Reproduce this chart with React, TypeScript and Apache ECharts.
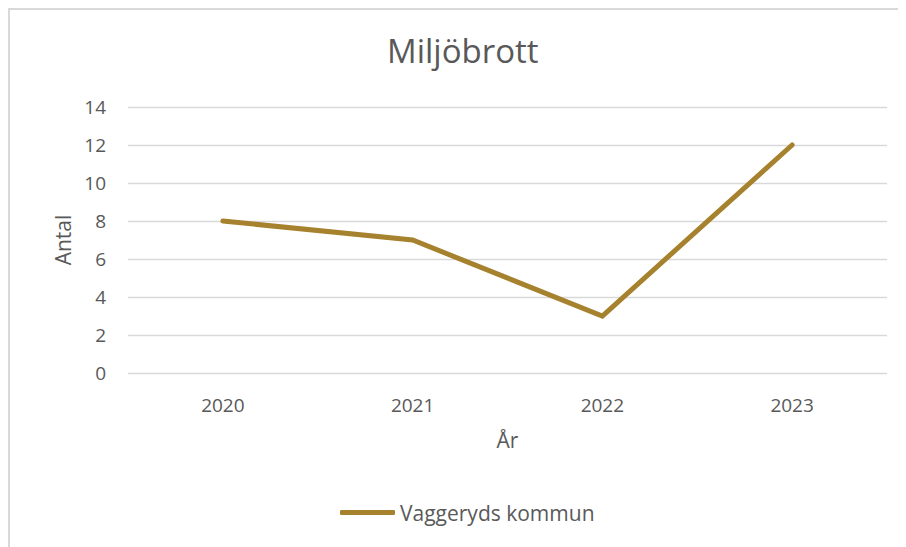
import React, { useEffect, useRef } from "react";
import * as echarts from "echarts";

const categories = ["2020", "2021", "2022", "2023"];
const values = [8, 7, 3, 12];
const seriesName = "Vaggeryds kommun";
const title = "Miljöbrott";
const yName = "Antal";
const xName = "År";

const FONT = "'Open Sans', sans-serif";
const TXT = "#595959";

export default function App() {
  const ref = useRef<HTMLDivElement>(null);
  useEffect(() => {
    if (!ref.current) return;
    const chart = echarts.init(ref.current, null, { renderer: "svg" });
    chart.setOption({
      animation: false,
      backgroundColor: "#ffffff",
      textStyle: { fontFamily: FONT },
      title: {
        text: title,
        left: 372,
        top: 19,
        textStyle: { fontFamily: FONT, fontSize: 33, fontWeight: "normal", color: TXT },
      },
      legend: {
        data: [{ name: seriesName, icon: "roundRect" }],
        left: 325,
        top: 487,
        itemWidth: 55,
        itemHeight: 5,
        itemGap: 5,
        textStyle: { fontFamily: FONT, fontSize: 21, color: TXT },
      },
      grid: { left: 118, top: 97, width: 759, height: 266, containLabel: false },
      xAxis: {
        type: "category",
        data: categories,
        boundaryGap: true,
        name: xName,
        nameLocation: "middle",
        nameGap: 56,
        nameTextStyle: { fontFamily: FONT, fontSize: 21, color: TXT },
        axisLine: { show: false },
        axisTick: { show: false },
        axisLabel: { fontFamily: FONT, fontSize: 19, color: TXT, margin: 22 },
      },
      yAxis: {
        type: "value",
        min: 0,
        max: 14,
        interval: 2,
        name: yName,
        nameLocation: "middle",
        nameGap: 52,
        nameTextStyle: { fontFamily: FONT, fontSize: 21, color: TXT },
        axisLine: { show: false },
        axisTick: { show: false },
        axisLabel: { fontFamily: FONT, fontSize: 19, color: TXT, margin: 22 },
        splitLine: { lineStyle: { color: "#d9d9d9", width: 1.3 } },
      },
      series: [
        {
          name: seriesName,
          type: "line",
          data: values,
          showSymbol: false,
          symbol: "none",
          color: "#A7822E",
          lineStyle: { color: "#A7822E", width: 5, cap: "round", join: "miter" },
        },
      ],
    });
    return () => chart.dispose();
  }, []);
  return (
    <div
      style={{
        width: 898,
        height: 539,
        borderLeft: "2px solid #d9d9d9",
        borderTop: "2px solid #d9d9d9",
        boxSizing: "border-box",
        background: "#fff",
      }}
    >
      <div ref={ref} style={{ width: 896, height: 537 }} />
    </div>
  );
}
